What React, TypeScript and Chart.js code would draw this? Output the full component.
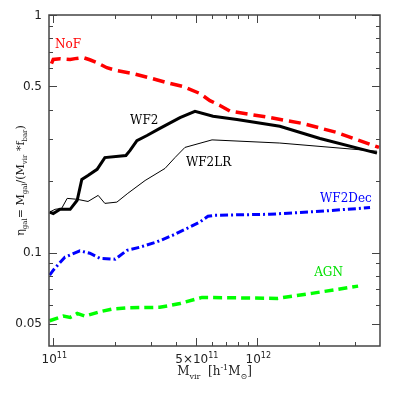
import React, { useEffect, useRef } from "react";
import { Chart, registerables } from "chart.js";
Chart.register(...registerables);

// Halo mass (h^-1 Msun) and eta_gal for each model
const nofMass = [0.98e11, 1.0e11, 1.08e11, 1.21e11, 1.28e11, 1.4e11, 1.51e11, 1.64e11, 1.83e11, 2.05e11, 2.46e11, 2.98e11, 3.61e11, 4.32e11, 5.24e11, 5.86e11, 6.56e11, 7.35e11, 11.5e11, 16.8e11, 24.6e11, 39.5e11];
const nofEta = [0.624, 0.65, 0.655, 0.65, 0.655, 0.662, 0.648, 0.63, 0.6, 0.583, 0.567, 0.543, 0.519, 0.5, 0.467, 0.436, 0.416, 0.394, 0.37, 0.349, 0.32, 0.277];

const wf2Mass = [0.96e11, 1.0e11, 1.08e11, 1.21e11, 1.31e11, 1.38e11, 1.48e11, 1.64e11, 1.79e11, 2.27e11, 2.38e11, 2.57e11, 2.88e11, 3.33e11, 4.18e11, 4.95e11, 6.07e11, 7.95e11, 12.9e11, 20.3e11, 38.6e11];
const wf2Eta = [0.148, 0.146, 0.152, 0.152, 0.166, 0.203, 0.211, 0.224, 0.251, 0.256, 0.269, 0.296, 0.311, 0.333, 0.37, 0.393, 0.375, 0.363, 0.34, 0.302, 0.262];

const wf2lrMass = [0.96e11, 1.02e11, 1.1e11, 1.17e11, 1.31e11, 1.48e11, 1.66e11, 1.79e11, 2.05e11, 2.32e11, 2.82e11, 3.53e11, 3.95e11, 4.42e11, 6.0e11, 12.9e11, 38.6e11];
const wf2lrEta = [0.148, 0.152, 0.1535, 0.169, 0.1675, 0.164, 0.174, 0.161, 0.163, 0.1775, 0.201, 0.226, 0.251, 0.277, 0.298, 0.289, 0.267];

const wf2decMass = [0.96e11, 1.0e11, 1.14e11, 1.35e11, 1.51e11, 1.69e11, 2.01e11, 2.3e11, 2.66e11, 3.22e11, 3.86e11, 4.68e11, 5.24e11, 5.73e11, 6.2e11, 11.5e11, 20.3e11, 35.7e11];
const wf2decEta = [0.0803, 0.0843, 0.0956, 0.1016, 0.0993, 0.0946, 0.0937, 0.1022, 0.1053, 0.1108, 0.1183, 0.1281, 0.1345, 0.1421, 0.1435, 0.1449, 0.1491, 0.1546];

const agnMass = [0.96e11, 1.12e11, 1.21e11, 1.31e11, 1.43e11, 1.69e11, 1.94e11, 2.3e11, 3.33e11, 4.18e11, 5.36e11, 12.6e11, 18.5e11, 31.2e11];
const agnEta = [0.0516, 0.054, 0.0533, 0.0554, 0.054, 0.0563, 0.0578, 0.0585, 0.0588, 0.061, 0.0647, 0.0641, 0.0673, 0.0722];

// Axis ranges and ticks
const xMin = 0.953e11;
const xMax = 3.995e12;
const yMin = 0.0404;
const yMax = 1.0;
const xMajorTicks = [1e11, 5e11, 1e12];
const xMinorTicks = [2e11, 3e11, 4e11, 6e11, 7e11, 8e11, 9e11, 2e12, 3e12];
const yMajorTicks = [0.05, 0.1, 0.5, 1];
const yMinorTicks = [0.06, 0.07, 0.08, 0.09, 0.2, 0.3, 0.4, 0.6, 0.7, 0.8, 0.9];
const xTickLabels = [
  { v: 1e11, segs: [{ t: "10" }, { t: "11", s: "sup" }] },
  { v: 5e11, segs: [{ t: "5×10" }, { t: "11", s: "sup" }] },
  { v: 1e12, segs: [{ t: "10" }, { t: "12", s: "sup" }] },
];
const yTickLabels = [
  { v: 1, t: "1" },
  { v: 0.5, t: "0.5" },
  { v: 0.1, t: "0.1" },
  { v: 0.05, t: "0.05" },
];

// Curve labels: name, anchor mass, anchor eta, colour
const labelNames = ["NoF", "WF2", "WF2LR", "WF2Dec", "AGN"];
const labelMass = [1.02e11, 2.38e11, 4.47e11, 2.03e12, 1.9e12];
const labelEta = [0.75, 0.36, 0.2395, 0.1675, 0.0818];
const labelColors = ["#ff0000", "#000000", "#000000", "#0000ff", "#00e000"];

type Seg = { t: string; s?: "sub" | "sup" };

function drawRich(ctx: CanvasRenderingContext2D, segs: Seg[], x: number, y: number, size: number, family: string, align: "left" | "center" | "right") {
  const small = Math.round(size * 0.68);
  let w = 0;
  for (const sg of segs) {
    ctx.font = `${sg.s ? small : size}px ${family}`;
    w += ctx.measureText(sg.t).width;
  }
  let cx = align === "center" ? x - w / 2 : align === "right" ? x - w : x;
  ctx.textAlign = "left";
  for (const sg of segs) {
    ctx.font = `${sg.s ? small : size}px ${family}`;
    const dy = sg.s === "sub" ? size * 0.3 : sg.s === "sup" ? -size * 0.42 : 0;
    ctx.fillText(sg.t, cx, y + dy);
    cx += ctx.measureText(sg.t).width;
  }
}

const framePlugin = {
  id: "frame",
  afterDraw(chart: any) {
    const ctx: CanvasRenderingContext2D = chart.ctx;
    const { left, right, top, bottom } = chart.chartArea;
    const xs = chart.scales.x;
    const ys = chart.scales.y;
    ctx.save();
    ctx.strokeStyle = "#444";
    ctx.lineWidth = 1.5;
    ctx.strokeRect(left, top, right - left, bottom - top);
    ctx.lineWidth = 1;
    const tick = (x1: number, y1: number, x2: number, y2: number) => {
      ctx.beginPath();
      ctx.moveTo(x1, y1);
      ctx.lineTo(x2, y2);
      ctx.stroke();
    };
    const majL = 8, minL = 4;
    for (const v of xMajorTicks) {
      const p = Math.round(xs.getPixelForValue(v)) + 0.5;
      tick(p, bottom, p, bottom - majL);
      tick(p, top, p, top + majL);
    }
    for (const v of xMinorTicks) {
      const p = Math.round(xs.getPixelForValue(v)) + 0.5;
      tick(p, bottom, p, bottom - minL);
      tick(p, top, p, top + minL);
    }
    for (const v of yMajorTicks) {
      const p = Math.round(ys.getPixelForValue(v)) + 0.5;
      tick(left, p, left + majL, p);
      tick(right, p, right - majL, p);
    }
    for (const v of yMinorTicks) {
      const p = Math.round(ys.getPixelForValue(v)) + 0.5;
      tick(left, p, left + minL, p);
      tick(right, p, right - minL, p);
    }

    // tick labels
    ctx.fillStyle = "#222";
    ctx.textBaseline = "alphabetic";
    for (const tl of xTickLabels) {
      drawRich(ctx, tl.segs as Seg[], xs.getPixelForValue(tl.v) + 1, bottom + 17, 12, "'DejaVu Sans'", "center");
    }
    ctx.textBaseline = "middle";
    ctx.font = "12px 'DejaVu Sans'";
    ctx.textAlign = "right";
    for (const tl of yTickLabels) {
      const p = ys.getPixelForValue(tl.v);
      ctx.fillText(tl.t, left - 7, p + (tl.v === 1 ? 1 : 0));
    }

    // axis titles
    ctx.textBaseline = "alphabetic";
    drawRich(
      ctx,
      [{ t: "M" }, { t: "vir", s: "sub" }, { t: "  [h" }, { t: "-1", s: "sup" }, { t: "M" }, { t: "⊙", s: "sub" }, { t: "]" }],
      (left + right) / 2,
      bottom + 29,
      12,
      "'DejaVu Serif'",
      "center"
    );
    ctx.save();
    ctx.translate(24, (top + bottom) / 2);
    ctx.rotate(-Math.PI / 2);
    drawRich(
      ctx,
      [
        { t: "η" },
        { t: "gal", s: "sub" },
        { t: "= M" },
        { t: "gal", s: "sub" },
        { t: "/(M" },
        { t: "vir", s: "sub" },
        { t: " *f" },
        { t: "bar", s: "sub" },
        { t: ")" },
      ],
      0,
      0,
      11,
      "'DejaVu Serif'",
      "center"
    );
    ctx.restore();

    // curve labels
    ctx.textBaseline = "middle";
    ctx.textAlign = "left";
    ctx.font = "12px 'DejaVu Serif'";
    for (let i = 0; i < labelNames.length; i++) {
      ctx.fillStyle = labelColors[i];
      ctx.fillText(labelNames[i], xs.getPixelForValue(labelMass[i]), ys.getPixelForValue(labelEta[i]));
    }
    ctx.restore();
  },
};

const toPts = (xs: number[], ys: number[]) => xs.map((x, i) => ({ x, y: ys[i] }));

export default function App() {
  const ref = useRef<HTMLCanvasElement>(null);
  useEffect(() => {
    if (!ref.current) return;
    const chart = new Chart(ref.current, {
      type: "line",
      data: {
        datasets: [
          { label: "NoF", data: toPts(nofMass, nofEta), borderColor: "#ff0000", borderWidth: 3.5, borderDash: [12, 6], pointRadius: 0, tension: 0, fill: false },
          { label: "WF2", data: toPts(wf2Mass, wf2Eta), borderColor: "#000000", borderWidth: 3, pointRadius: 0, tension: 0, fill: false },
          { label: "WF2LR", data: toPts(wf2lrMass, wf2lrEta), borderColor: "#000000", borderWidth: 1, pointRadius: 0, tension: 0, fill: false },
          { label: "WF2Dec", data: toPts(wf2decMass, wf2decEta), borderColor: "#0000ff", borderWidth: 3, borderDash: [8, 3, 2, 3], pointRadius: 0, tension: 0, fill: false },
          { label: "AGN", data: toPts(agnMass, agnEta), borderColor: "#00ff00", borderWidth: 3.5, borderDash: [9, 5], pointRadius: 0, tension: 0, fill: false },
        ],
      },
      options: {
        responsive: false,
        animation: false,
        layout: { padding: { left: 49, top: 15, right: 15, bottom: 49 } },
        plugins: { legend: { display: false }, tooltip: { enabled: false } },
        scales: {
          x: { type: "logarithmic", min: xMin, max: xMax, display: false },
          y: { type: "logarithmic", min: yMin, max: yMax, display: false },
        },
      },
      plugins: [framePlugin],
    });
    return () => chart.destroy();
  }, []);
  return (
    <div style={{ position: "fixed", left: 0, top: 0, width: 395, height: 395, background: "#fff" }}>
      <canvas ref={ref} width={395} height={395} style={{ width: 395, height: 395 }} />
    </div>
  );
}
